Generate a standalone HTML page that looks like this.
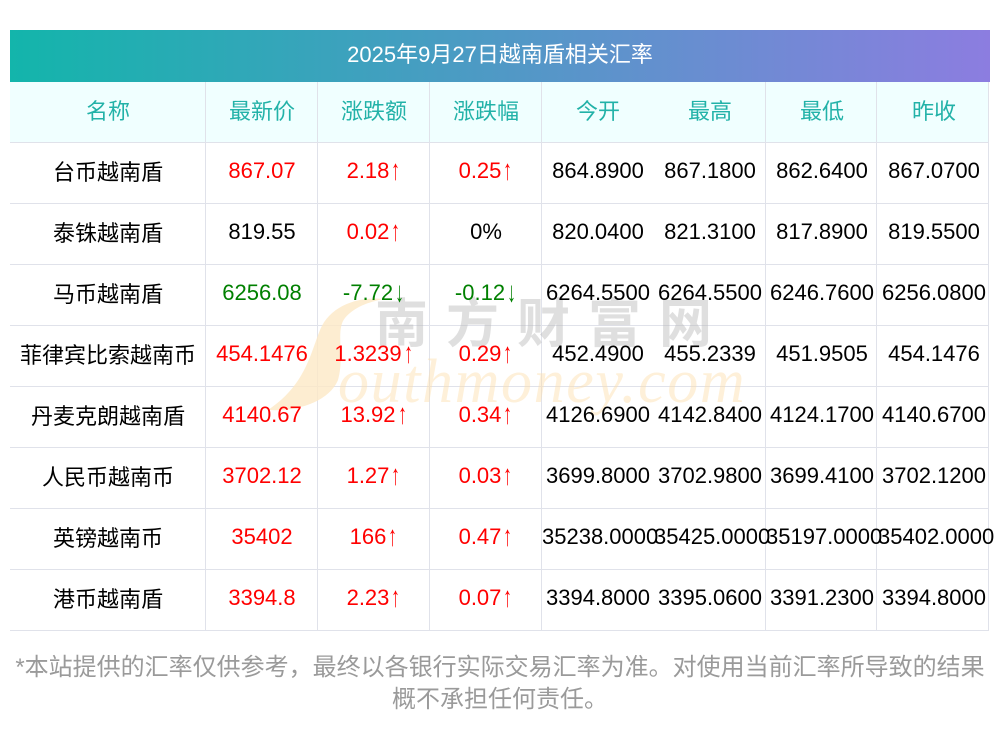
<!DOCTYPE html>
<html><head><meta charset="utf-8">
<style>
*{margin:0;padding:0;box-sizing:border-box;}
html,body{width:1000px;height:733px;background:#fff;overflow:hidden;}
body{position:relative;font-family:"Liberation Sans","Noto Sans CJK SC",sans-serif;}
.title{position:absolute;left:10px;top:30px;width:980px;height:52px;background:linear-gradient(to right,#13b5ab,#8c7de0);color:#fff;font-size:22px;line-height:50px;text-align:center;}
.hbg{position:absolute;left:10px;top:82px;width:979px;height:60px;background:#f0ffff;}
.hl{position:absolute;left:10px;width:979px;height:1px;background:#e0e2ea;}
.vl{position:absolute;top:82px;width:1px;height:549px;background:#e0e2ea;}
.row{position:absolute;left:10px;height:60px;display:flex;}
.c{height:60px;width:112px;display:flex;align-items:center;justify-content:center;font-size:22px;white-space:nowrap;color:#000;padding-bottom:5px;}
.c0{width:196px;}
.hd .c{color:#22b2a8;}
.r{color:#ff0000;}
.g{color:#008000;}
.a{display:inline-block;transform:scale(0.8,1.3);transform-origin:50% 60%;margin-left:1px;}
.foot{position:absolute;left:0;width:1000px;text-align:center;font-size:24px;color:#9a9a9a;font-family:"Liberation Sans","Noto Sans CJK SC",sans-serif;white-space:nowrap;}
.wm1{position:absolute;left:375px;top:294px;font-size:53px;line-height:1;font-weight:bold;color:rgba(185,185,185,0.45);letter-spacing:18px;font-family:"Noto Sans CJK SC",sans-serif;white-space:nowrap;}
.wm2{position:absolute;left:338px;top:351px;font-size:62px;line-height:62px;font-style:italic;color:rgba(252,222,170,0.45);letter-spacing:1.6px;font-family:"Liberation Serif",serif;white-space:nowrap;}
.txt{position:absolute;left:0;top:0;width:1000px;height:733px;}
</style></head>
<body>
<div class="title">2025年9月27日越南盾相关汇率</div>
<div class="hbg"></div>
<div class="hl" style="top:142px"></div>
<div class="hl" style="top:203px"></div>
<div class="hl" style="top:264px"></div>
<div class="hl" style="top:325px"></div>
<div class="hl" style="top:386px"></div>
<div class="hl" style="top:447px"></div>
<div class="hl" style="top:508px"></div>
<div class="hl" style="top:569px"></div>
<div class="hl" style="top:630px"></div>
<div class="vl" style="left:205px"></div>
<div class="vl" style="left:317px"></div>
<div class="vl" style="left:429px"></div>
<div class="vl" style="left:541px"></div>
<div class="vl" style="left:765px"></div>
<div class="vl" style="left:876px"></div>
<div class="vl" style="left:988px"></div>

<svg style="position:absolute;left:0;top:0" width="1000" height="733">
<path d="M 383 299 C 360 296, 330 305, 320 330 C 310 355, 305 385, 268 410 C 300 412, 330 400, 338 380 C 345 355, 335 330, 345 318 C 355 306, 370 302, 383 299 Z" fill="#fde9c6" fill-opacity="0.8"/>
</svg>
<div class="wm1">南方财富网</div>
<div class="wm2">outhmoney.com</div>

<div class="txt">
<div class="row hd" style="top:82px"><div class="c c0">名称</div><div class="c">最新价</div><div class="c">涨跌额</div><div class="c">涨跌幅</div><div class="c">今开</div><div class="c">最高</div><div class="c">最低</div><div class="c">昨收</div></div>
<div class="row" style="top:143px"><div class="c c0">台币越南盾</div><div class="c r">867.07</div><div class="c r">2.18<span class="a">↑</span></div><div class="c r">0.25<span class="a">↑</span></div><div class="c">864.8900</div><div class="c">867.1800</div><div class="c">862.6400</div><div class="c">867.0700</div></div>
<div class="row" style="top:204px"><div class="c c0">泰铢越南盾</div><div class="c">819.55</div><div class="c r">0.02<span class="a">↑</span></div><div class="c">0%</div><div class="c">820.0400</div><div class="c">821.3100</div><div class="c">817.8900</div><div class="c">819.5500</div></div>
<div class="row" style="top:265px"><div class="c c0">马币越南盾</div><div class="c g">6256.08</div><div class="c g">-7.72<span class="a">↓</span></div><div class="c g">-0.12<span class="a">↓</span></div><div class="c">6264.5500</div><div class="c">6264.5500</div><div class="c">6246.7600</div><div class="c">6256.0800</div></div>
<div class="row" style="top:326px"><div class="c c0">菲律宾比索越南币</div><div class="c r">454.1476</div><div class="c r">1.3239<span class="a">↑</span></div><div class="c r">0.29<span class="a">↑</span></div><div class="c">452.4900</div><div class="c">455.2339</div><div class="c">451.9505</div><div class="c">454.1476</div></div>
<div class="row" style="top:387px"><div class="c c0">丹麦克朗越南盾</div><div class="c r">4140.67</div><div class="c r">13.92<span class="a">↑</span></div><div class="c r">0.34<span class="a">↑</span></div><div class="c">4126.6900</div><div class="c">4142.8400</div><div class="c">4124.1700</div><div class="c">4140.6700</div></div>
<div class="row" style="top:448px"><div class="c c0">人民币越南币</div><div class="c r">3702.12</div><div class="c r">1.27<span class="a">↑</span></div><div class="c r">0.03<span class="a">↑</span></div><div class="c">3699.8000</div><div class="c">3702.9800</div><div class="c">3699.4100</div><div class="c">3702.1200</div></div>
<div class="row" style="top:509px"><div class="c c0">英镑越南币</div><div class="c r">35402</div><div class="c r">166<span class="a">↑</span></div><div class="c r">0.47<span class="a">↑</span></div><div class="c" style="justify-content:flex-start">35238.0000</div><div class="c" style="justify-content:flex-start">35425.0000</div><div class="c" style="justify-content:flex-start">35197.0000</div><div class="c" style="justify-content:flex-start">35402.0000</div></div>
<div class="row" style="top:570px"><div class="c c0">港币越南盾</div><div class="c r">3394.8</div><div class="c r">2.23<span class="a">↑</span></div><div class="c r">0.07<span class="a">↑</span></div><div class="c">3394.8000</div><div class="c">3395.0600</div><div class="c">3391.2300</div><div class="c">3394.8000</div></div>
</div>

<div class="foot" style="top:652px;line-height:32px">*本站提供的汇率仅供参考，最终以各银行实际交易汇率为准。对使用当前汇率所导致的结果</div>
<div class="foot" style="top:684px;line-height:32px">概不承担任何责任。</div>
</body></html>
